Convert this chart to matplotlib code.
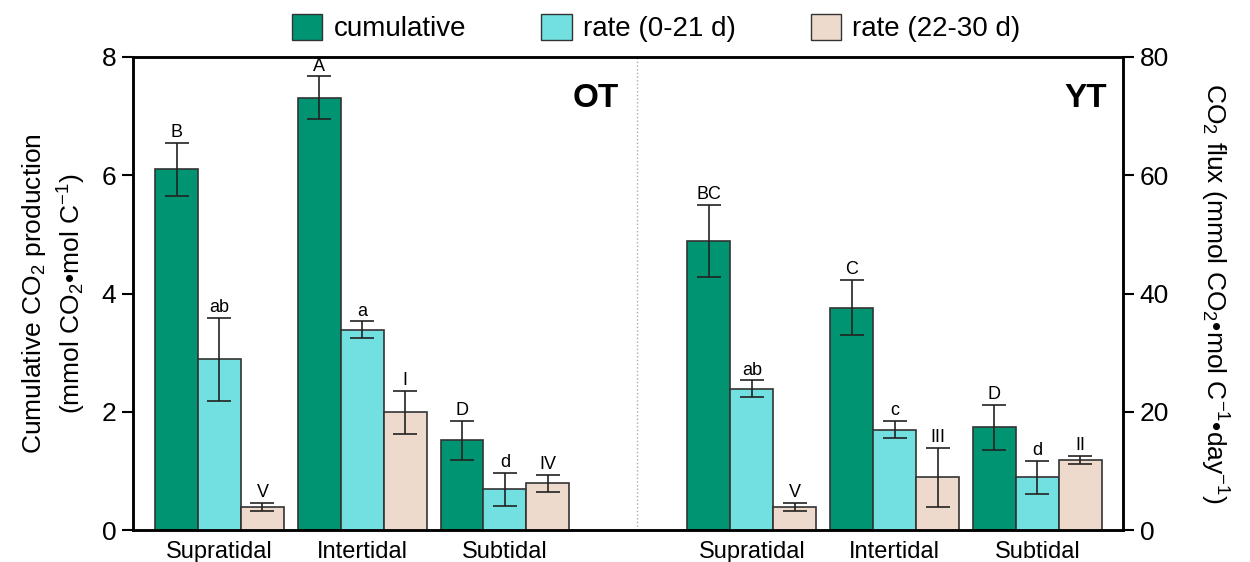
import numpy as np
import matplotlib
matplotlib.use("Agg")
import matplotlib.pyplot as plt
from matplotlib.patches import Patch

plt.rcParams['font.family'] = ['Liberation Sans', 'DejaVu Sans']
plt.rcParams['mathtext.fontset'] = 'custom'
plt.rcParams['mathtext.rm'] = 'Liberation Sans'
plt.rcParams['mathtext.it'] = 'Liberation Sans:italic'
plt.rcParams['mathtext.default'] = 'regular'

# data
sites = ["Supratidal", "Intertidal", "Subtidal"]
cum_ot = [6.1, 7.31, 1.52]
cum_ot_err = [0.45, 0.36, 0.33]
cum_yt = [4.89, 3.76, 1.74]
cum_yt_err = [0.61, 0.47, 0.38]
r1_ot = [28.9, 33.9, 6.9]
r1_ot_err = [7.0, 1.4, 2.8]
r1_yt = [23.9, 17.0, 8.9]
r1_yt_err = [1.4, 1.4, 2.8]
r2_ot = [3.9, 19.9, 7.9]
r2_ot_err = [0.7, 3.6, 1.4]
r2_yt = [3.9, 8.9, 11.9]
r2_yt_err = [0.7, 5.0, 0.7]
lab_cum_ot = ["B", "A", "D"]
lab_cum_yt = ["BC", "C", "D"]
lab_r1_ot = ["ab", "a", "d"]
lab_r1_yt = ["ab", "c", "d"]
lab_r2_ot = ["V", "I", "IV"]
lab_r2_yt = ["V", "III", "II"]

c_cum = '#009473'
c_r1 = '#72E0E0'
c_r2 = '#EEDACC'
edge = '#333333'

fig = plt.figure(figsize=(12.5, 5.62), dpi=100)
ax = fig.add_axes([0.1064, 0.0569, 0.7920, 0.8417])
ax2 = ax.twinx()

centers = np.array([0, 1, 2, 3.73, 4.73, 5.73])
w = 0.301
cum = cum_ot + cum_yt
cum_err = cum_ot_err + cum_yt_err
r1 = r1_ot + r1_yt
r1_err = r1_ot_err + r1_yt_err
r2 = r2_ot + r2_yt
r2_err = r2_ot_err + r2_yt_err

ekw = dict(ecolor='#222222', elinewidth=1.2, capsize=8.5, capthick=1.2)
ax.bar(centers - w, cum, w, color=c_cum, edgecolor=edge, linewidth=1.2,
       yerr=cum_err, error_kw=ekw)
ax2.bar(centers, r1, w, color=c_r1, edgecolor=edge, linewidth=1.2,
        yerr=r1_err, error_kw=ekw)
ax2.bar(centers + w, r2, w, color=c_r2, edgecolor=edge, linewidth=1.2,
        yerr=r2_err, error_kw=ekw)

# significance letters
for i, x in enumerate(centers):
    ax2.text(x - w, (cum[i] + cum_err[i]) * 10 + 0.3, (lab_cum_ot + lab_cum_yt)[i],
             ha='center', va='bottom', fontsize=13)
    ax2.text(x, r1[i] + r1_err[i] + 0.3, (lab_r1_ot + lab_r1_yt)[i],
             ha='center', va='bottom', fontsize=13)
    ax2.text(x + w, r2[i] + r2_err[i] + 0.3, (lab_r2_ot + lab_r2_yt)[i],
             ha='center', va='bottom', fontsize=13)

ax.set_xlim(-0.606, 6.33)
ax.set_ylim(0, 8)
ax2.set_ylim(0, 80)
ax.set_yticks([0, 2, 4, 6, 8])
ax2.set_yticks([0, 20, 40, 60, 80])
ax.set_xticks(centers)
ax.set_xticklabels(sites * 2, fontsize=17)
ax.tick_params(axis='x', length=0, pad=8)
ax.tick_params(axis='y', length=8, width=1.5, labelsize=19, direction='out', pad=4)
ax2.tick_params(axis='y', length=8, width=1.5, labelsize=19, direction='out', pad=4)
for a in (ax, ax2):
    for s in a.spines.values():
        s.set_linewidth(1.8)

ax.axvline(2.926, color='#aaaaaa', linestyle=':', linewidth=1)

ax.set_ylabel("Cumulative CO$_2$ production\n(mmol CO$_2$•mol C$^{-1}$)", fontsize=19,
              labelpad=10, linespacing=1.3)
ax2.set_ylabel("CO$_2$ flux (mmol CO$_2$•mol C$^{-1}$•day$^{-1}$)", fontsize=19,
               rotation=270, labelpad=44)

ax.text(2.8, 7.3, "OT", fontsize=24, fontweight='bold', ha='right', va='center')
ax.text(6.22, 7.3, "YT", fontsize=24, fontweight='bold', ha='right', va='center')

handles = [Patch(facecolor=c_cum, edgecolor=edge, label='cumulative'),
           Patch(facecolor=c_r1, edgecolor=edge, label='rate (0-21 d)'),
           Patch(facecolor=c_r2, edgecolor=edge, label='rate (22-30 d)')]
fig.legend(handles=handles, loc='center', bbox_to_anchor=(0.525, 0.95), ncol=3,
           frameon=False, fontsize=20, handlelength=1.1, handleheight=1.1,
           columnspacing=2.7, handletextpad=0.4)

fig.savefig("out.png", dpi=100)
